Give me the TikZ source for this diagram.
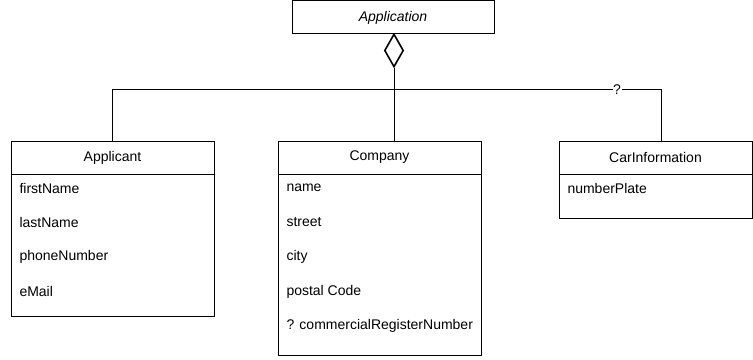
\documentclass[tikz,border=0pt]{standalone}
\usepackage{fontspec}
\setmainfont{Liberation Sans}
\usetikzlibrary{shapes.geometric}
\begin{document}
\begin{tikzpicture}[x=0.75pt,y=-0.75pt,
  line width=0.75pt,
  every node/.style={font=\fontsize{10.5}{12}\selectfont},
  umlbox/.style={draw, inner sep=0pt, fill=white},
  attr/.style={anchor=west, inner sep=0pt},
  lbl/.style={fill=white, inner sep=0.5pt}]
\useasboundingbox (0,0) rectangle (753,360);
% Application
\node[umlbox, minimum width=151.5pt, minimum height=24.75pt, font=\fontsize{10.5}{12}\selectfont\itshape] (app) at (393,17.5) {Application};
\node[draw, diamond, inner sep=0pt, minimum width=14.25pt, minimum height=24.75pt, line width=1.2pt] (dia) at (394,50.5) {};
% Applicant
\node[umlbox, minimum width=152.25pt, minimum height=24.75pt] (appl) at (112.5,157.5) {Applicant};
\node[umlbox, minimum width=152.25pt, minimum height=106.5pt] (applb) at (112.5,245) {};
\node[attr] (a1) at (19,188) {firstName};
\node[attr] (a2) at (19,222.5) {lastName};
\node[attr] (a3) at (19,257) {phoneNumber};
\node[attr] (a4) at (19,291.5) {eMail};
% Company
\node[umlbox, minimum width=152.25pt, minimum height=24.75pt] (comp) at (379.5,157.5) {Company};
\node[umlbox, minimum width=152.25pt, minimum height=135.75pt] (compb) at (379.5,264.5) {};
\node[attr] (c1) at (286,188) {name};
\node[attr] (c2) at (286,222.5) {street};
\node[attr] (c3) at (286,257) {city};
\node[attr] (c4) at (286,291.5) {postal Code};
\node[attr] (c5) at (286,326) {? commercialRegisterNumber};
% CarInformation
\node[umlbox, minimum width=144.75pt, minimum height=24.75pt] (car) at (655.5,157.5) {CarInformation};
\node[umlbox, minimum width=144.75pt, minimum height=33pt] (carb) at (655.5,196) {};
\node[attr] (n1) at (567,188) {numberPlate};
% connectors
\coordinate (jl) at (112.5,90);
\coordinate (jr) at (661,90);
\coordinate (cartop) at (661,141);
\draw (app.south) -- (dia.north);
\draw (dia.south) -- (dia.south |- comp.north);
\draw (appl.north) -- (jl) -- node[lbl, pos=0.92] (q) {?} (jr) -- (cartop);
\end{tikzpicture}
\end{document}
